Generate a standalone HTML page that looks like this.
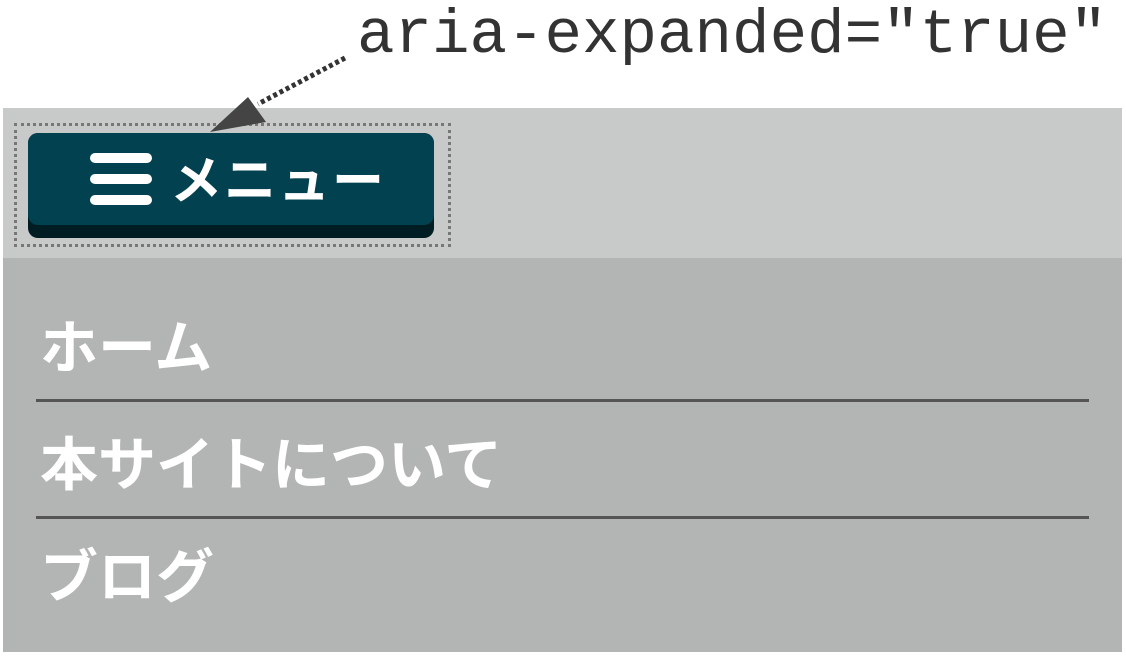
<!DOCTYPE html>
<html><head><meta charset="utf-8">
<style>
html,body{margin:0;padding:0;background:#fff;width:1126px;height:657px;overflow:hidden;position:relative;font-family:"Liberation Sans","Noto Sans CJK JP",sans-serif}
.abs{position:absolute}
.jp{font-family:"Liberation Sans","Noto Sans CJK JP",sans-serif;font-weight:bold;color:#fff;line-height:1;white-space:nowrap}
</style></head><body>
<div class="abs" style="left:357px;top:5px;font-family:'Liberation Mono','DejaVu Sans Mono',monospace;font-size:62.5px;line-height:62px;color:#333;white-space:nowrap">aria-expanded="true"</div>

<div class="abs" style="left:3px;top:108px;width:1119px;height:150px;background:#c8c9c9"></div>
<div class="abs" style="left:3px;top:258px;width:1119px;height:394px;background:#b3b4b4"></div>

<div class="abs" style="left:14px;top:123px;width:431px;height:118px;border:3px dotted #777"></div>

<div class="abs" style="left:28px;top:133px;width:406px;height:105px;border-radius:10px;background:#011d24">
  <div class="abs" style="left:0;top:0;width:406px;height:92px;border-radius:10px;background:#02414f"></div>
  <div class="abs" style="left:62px;top:20px;width:62px;height:54px">
    <div class="abs" style="left:0;top:0;width:62px;height:10px;border-radius:5px;background:#fff"></div>
    <div class="abs" style="left:0;top:21px;width:62px;height:10px;border-radius:5px;background:#fff"></div>
    <div class="abs" style="left:0;top:42px;width:62px;height:10px;border-radius:5px;background:#fff"></div>
  </div>
  <div class="abs jp" style="left:142px;top:23px;font-size:52px;letter-spacing:2px">メニュー</div>
</div>

<svg class="abs" style="left:0;top:0" width="1126" height="657">
  <line x1="345" y1="58" x2="258" y2="104" stroke="#333" stroke-width="5" stroke-dasharray="4,3"/>
  <polygon points="210,132 248,97 266,122" fill="#444"/>
</svg>

<div class="abs jp" style="left:40px;top:320px;font-size:58px">ホーム</div>
<div class="abs" style="left:36px;top:399px;width:1053px;height:3px;background:#555"></div>
<div class="abs jp" style="left:40px;top:437px;font-size:58px">本サイトについて</div>
<div class="abs" style="left:36px;top:516px;width:1053px;height:3px;background:#555"></div>
<div class="abs jp" style="left:40px;top:549px;font-size:58px">ブログ</div>
</body></html>
